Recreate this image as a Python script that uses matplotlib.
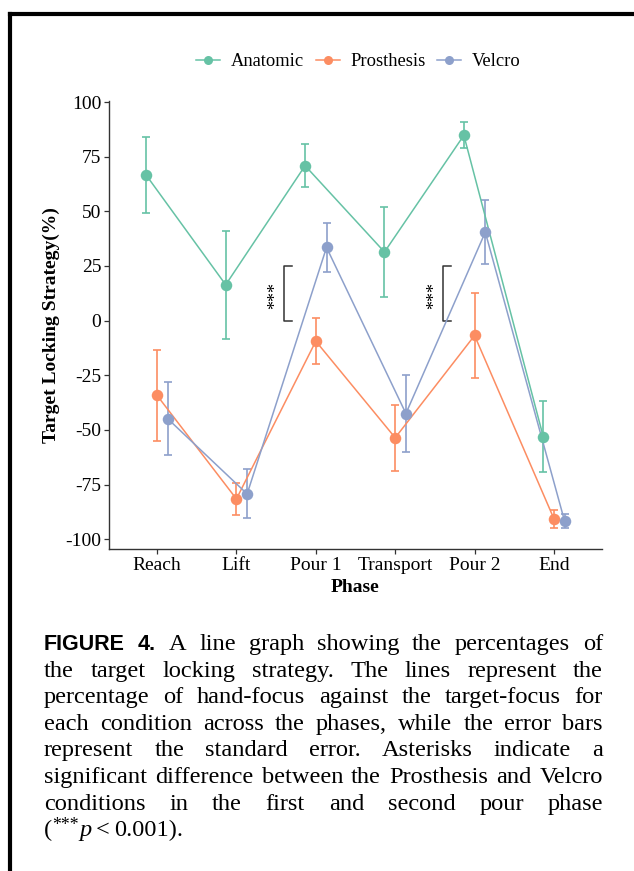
import matplotlib
matplotlib.use("Agg")
import matplotlib.pyplot as plt
from matplotlib.lines import Line2D
import numpy as np

# ---- data ----
phases = ["Reach", "Lift", "Pour 1", "Transport", "Pour 2", "End"]
conditions = ["Anatomic", "Prosthesis", "Velcro"]
colors = ["#66C2A5", "#FC8D62", "#8DA0CB"]

anatomic_mean = [66.5, 16.4, 70.9, 31.4, 84.8, -53.1]
anatomic_se = [17.3, 24.6, 9.8, 20.8, 6.0, 16.3]
prosthesis_mean = [-34.2, -81.6, -9.4, -53.6, -6.8, -90.7]
prosthesis_se = [20.8, 7.5, 10.4, 15.0, 19.6, 4.0]
velcro_mean = [-44.9, -79.3, 33.5, -42.5, 40.5, -91.9]
velcro_se = [16.8, 11.2, 11.3, 17.4, 14.5, 3.2]

means = [anatomic_mean, prosthesis_mean, velcro_mean]
ses = [anatomic_se, prosthesis_se, velcro_se]

# significance brackets (Prosthesis vs Velcro) at Pour 1 and Pour 2
sig_phase = [3, 5]
sig_range = (0, 25)
sig_label = "***"

caption_lines = [
    "A line graph showing the percentages of",
    "the target locking strategy. The lines represent the",
    "percentage of hand-focus against the target-focus for",
    "each condition across the phases, while the error bars",
    "represent the standard error. Asterisks indicate a",
    "significant difference between the Prosthesis and Velcro",
    "conditions in the first and second pour phase",
]

SERIF = "Liberation Serif"
SANS = "Liberation Sans"
W, H = 634, 871
FS = 14

fig = plt.figure(figsize=(W / 100, H / 100), dpi=100)
ax = fig.add_axes([109 / W, 1 - 549 / H, (602 - 109) / W, (549 - 101) / H])

x = np.arange(1, len(phases) + 1)
dodge = [-0.135, 0.0, 0.135]

handles = []
for name, col, m, s, d in zip(conditions, colors, means, ses, dodge):
    xs = x + d
    ax.errorbar(xs, m, yerr=s, fmt="none", ecolor=col, elinewidth=1.2,
                capsize=3.0, capthick=1.2, zorder=2)
    ax.plot(xs, m, color=col, lw=1.1, zorder=3)
    ax.plot(xs, m, "o", color=col, ms=8.3, mec="none", zorder=4)
    handles.append(Line2D([0], [0], color=col, lw=1.1, marker="o", ms=6.5,
                          mec="none", label=name))

# significance brackets
for p in sig_phase:
    xv = p - 0.40
    xt = p - 0.303
    ax.plot([xt, xv, xv, xt], [sig_range[0], sig_range[0], sig_range[1], sig_range[1]],
            color="#333333", lw=1.1, zorder=1)
    ax.text(p - 0.50, (sig_range[0] + sig_range[1]) / 2 - 1, sig_label, rotation=90,
            ha="center", va="center", fontsize=13, family=SERIF)

ax.set_xlim(0.395, 6.605)
ax.set_ylim(-104.5, 100.5)
ax.set_xticks(x)
ax.set_xticklabels(phases, family=SERIF, fontsize=FS)
ax.set_yticks([-100, -75, -50, -25, 0, 25, 50, 75, 100])
ax.set_yticklabels(["-100", "-75", "-50", "-25", "0", "25", "50", "75", "100"],
                   family=SERIF, fontsize=FS)
ax.tick_params(length=3.5, width=0.9, color="#333333", pad=2)
for side in ["top", "right"]:
    ax.spines[side].set_visible(False)
for side in ["left", "bottom"]:
    ax.spines[side].set_color("#333333")
    ax.spines[side].set_linewidth(1.0)
ax.set_xlabel("Phase", family=SERIF, fontsize=FS, fontweight="bold", labelpad=4)
ax.set_ylabel("Target Locking Strategy(%)", family=SERIF, fontsize=FS,
              fontweight="bold", labelpad=4)

ax.legend(handles=handles, loc="center",
          bbox_to_anchor=(0.5 + 3 / 493, 1 + (101 - 61.7) / 448),
          ncol=3, frameon=False, prop={"family": SERIF, "size": 13.3},
          handlelength=1.3, handletextpad=0.6, columnspacing=0.6)

# frame lines (page box)
fig.add_artist(Line2D([10 / W, 1], [1 - 14 / H, 1 - 14 / H], color="black", lw=3,
                      transform=fig.transFigure))
fig.add_artist(Line2D([10 / W, 10 / W], [0, 1 - 14 / H], color="black", lw=3,
                      transform=fig.transFigure))

# ---- justified caption ----
renderer = fig.canvas.get_renderer()
x_left, x_right = 44, 603
base0, step = 650, 26.6
cap_size = 17.6


def width_of(t):
    return t.get_window_extent(renderer).width


for i, line in enumerate(caption_lines):
    y = 1 - (base0 + i * step) / H
    words = []
    if i == 0:
        for w in ["FIGURE", "4."]:
            words.append(fig.text(0, y, w, family=SANS, fontweight="bold",
                                  fontsize=15.5, va="baseline"))
    for w in line.split(" "):
        words.append(fig.text(0, y, w, family=SERIF, fontsize=cap_size, va="baseline"))
    widths = [width_of(t) for t in words]
    gap = (x_right - x_left - sum(widths)) / (len(words) - 1)
    cx = x_left
    for t, wd in zip(words, widths):
        t.set_x(cx / W)
        cx += wd + gap

# last line: (***p < 0.001).
y = 1 - (base0 + len(caption_lines) * step) / H
cx = x_left
pieces = [("(", {}, 0, 0), ("***", {"fontsize": cap_size * 0.72}, 6, 1),
          ("p", {"style": "italic"}, 0, 4), ("<", {}, 0, 4), ("0.001).", {}, 0, 0)]
for txt, kw, dy, pad in pieces:
    opts = {"family": SERIF, "fontsize": cap_size, "va": "baseline"}
    opts.update(kw)
    t = fig.text(cx / W, y + dy / H, txt, **opts)
    cx += width_of(t) + pad

fig.savefig("out.png", dpi=100)
